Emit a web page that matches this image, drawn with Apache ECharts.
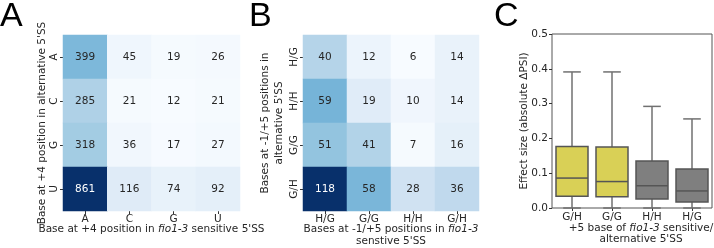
<!DOCTYPE html>
<html>
<head>
<meta charset="utf-8">
<script src="https://cdn.jsdelivr.net/npm/echarts@6/dist/echarts.min.js"></script>
<style>
  html, body { margin: 0; padding: 0; background: #fff; }
  #chart { width: 714px; height: 248px; }
</style>
</head>
<body>
<div id="chart"></div>
<script>
// panel A: +4 base counts
var aCols = ['A', 'C', 'G', 'U'];
var aRows = ['A', 'C', 'G', 'U'];
var aCounts = [
  [399, 45, 19, 26],
  [285, 21, 12, 21],
  [318, 36, 17, 27],
  [861, 116, 74, 92]
];
// panel B: -1/+5 bases counts
var bCols = ['H/G', 'G/G', 'H/H', 'G/H'];
var bRows = ['H/G', 'H/H', 'G/G', 'G/H'];
var bCounts = [
  [40, 12, 6, 14],
  [59, 19, 10, 14],
  [51, 41, 7, 16],
  [118, 58, 28, 36]
];
// panel C: effect size boxes
var cCats = ['G/H', 'G/G', 'H/H', 'H/G'];
var cLow = [0, 0, 0, 0];
var cQ1 = [0.034, 0.032, 0.026, 0.017];
var cMedian = [0.086, 0.076, 0.064, 0.049];
var cQ3 = [0.177, 0.175, 0.135, 0.112];
var cHigh = [0.391, 0.391, 0.292, 0.256];

var FONT = 'DejaVu Sans';
var TXT = '#262626';
var blues = ['#f7fbff', '#deebf7', '#c6dbef', '#9ecae1', '#6baed6', '#4292c6', '#2171b5', '#08519c', '#08306b'];

function heatData(counts) {
  var flat = [].concat.apply([], counts);
  var mn = Math.min.apply(null, flat), mx = Math.max.apply(null, flat);
  var out = [];
  counts.forEach(function (row, r) {
    row.forEach(function (v, c) {
      var t = (v - mn) / (mx - mn);
      out.push({ value: [c, r, v], label: { color: t > 0.6 ? '#ffffff' : TXT } });
    });
  });
  return { data: out, min: mn, max: mx };
}
var hA = heatData(aCounts);
var hB = heatData(bCounts);

function catX(grid, cats, name, gap) {
  return {
    type: 'category', gridIndex: grid, data: cats, position: 'bottom',
    axisLine: { show: false },
    axisTick: { show: true, length: 3, alignWithLabel: true, lineStyle: { color: '#333' } },
    axisLabel: { margin: 3, fontFamily: FONT, fontSize: 10.5, color: TXT },
    splitLine: { show: false }, splitArea: { show: false },
    name: name, nameLocation: 'middle', nameGap: gap, nameMoveOverlap: false,
    nameTextStyle: {
      fontFamily: FONT, fontSize: 10.5, color: TXT, lineHeight: 12, verticalAlign: 'top',
      rich: { i: { fontStyle: 'italic', fontFamily: FONT, fontSize: 10.5, color: TXT } }
    }
  };
}
function catY(grid, cats, name, gap) {
  return {
    type: 'category', gridIndex: grid, data: cats, inverse: true,
    axisLine: { show: false },
    axisTick: { show: true, length: 3, alignWithLabel: true, lineStyle: { color: '#333' } },
    axisLabel: { margin: 3, rotate: 90, fontFamily: FONT, fontSize: 10.5, color: TXT },
    splitLine: { show: false }, splitArea: { show: false },
    name: name, nameLocation: 'middle', nameGap: gap, nameRotate: 90, nameMoveOverlap: false,
    nameTextStyle: { fontFamily: FONT, fontSize: 10.5, color: TXT, lineHeight: 14 }
  };
}

var boxData = cCats.map(function (c, i) {
  return [i, cLow[i], cQ1[i], cMedian[i], cQ3[i], cHigh[i]];
});
var boxFill = ['#d9d056', '#d9d056', '#7f7f7f', '#7f7f7f'];

function renderBox(params, api) {
  var x = api.value(0);
  var band = api.size([1, 0])[0];
  var hw = band * 0.4, cw = hw * 0.55;
  var pLow = api.coord([x, api.value(1)]);
  var pQ1 = api.coord([x, api.value(2)]);
  var pMed = api.coord([x, api.value(3)]);
  var pQ3 = api.coord([x, api.value(4)]);
  var pHigh = api.coord([x, api.value(5)]);
  var cx = pQ1[0];
  var edge = '#555555', wh = '#707070';
  return {
    type: 'group',
    children: [
      { type: 'line', shape: { x1: cx, y1: pQ3[1], x2: cx, y2: pHigh[1] }, style: { stroke: wh, lineWidth: 1.5 } },
      { type: 'line', shape: { x1: cx, y1: pQ1[1], x2: cx, y2: pLow[1] }, style: { stroke: wh, lineWidth: 1.5 } },
      { type: 'line', shape: { x1: cx - cw, y1: pHigh[1], x2: cx + cw, y2: pHigh[1] }, style: { stroke: wh, lineWidth: 1.5 } },
      { type: 'line', shape: { x1: cx - cw, y1: pLow[1], x2: cx + cw, y2: pLow[1] }, style: { stroke: wh, lineWidth: 1.5 } },
      { type: 'rect', shape: { x: cx - hw, y: pQ3[1], width: hw * 2, height: pQ1[1] - pQ3[1] },
        style: { fill: boxFill[params.dataIndex], stroke: edge, lineWidth: 1.5 } },
      { type: 'line', shape: { x1: cx - hw, y1: pMed[1], x2: cx + hw, y2: pMed[1] }, style: { stroke: edge, lineWidth: 1.5 } }
    ]
  };
}

var chart = echarts.init(document.getElementById('chart'), null, { renderer: 'canvas' });
chart.setOption({
  animation: false,
  textStyle: { fontFamily: FONT },
  grid: [
    { left: 63, top: 35, width: 177, height: 176, outerBoundsMode: 'none' },
    { left: 303, top: 35, width: 176, height: 176, outerBoundsMode: 'none' },
    { left: 552, top: 34, width: 160, height: 174, outerBoundsMode: 'none', show: true, borderColor: '#555', borderWidth: 1, backgroundColor: 'transparent' }
  ],
  xAxis: [
    catX(0, aCols, "Base at +4 position in {i|fio1-3} sensitive 5'SS", 12),
    catX(1, bCols, "Bases at -1/+5 positions in {i|fio1-3}\nsenstive 5'SS", 12),
    {
      type: 'category', gridIndex: 2, data: cCats,
      axisLine: { show: false },
      axisTick: { show: true, length: 3, alignWithLabel: true, lineStyle: { color: '#333' } },
      axisLabel: { margin: 4, fontFamily: FONT, fontSize: 10.5, color: TXT },
      name: "+5 base of {i|fio1-3} sensitive/\nalternative 5'SS", nameLocation: 'middle', nameGap: 15, nameMoveOverlap: false,
      nameTextStyle: {
        fontFamily: FONT, fontSize: 10.5, color: TXT, lineHeight: 11, verticalAlign: 'top', padding: [0, 0, 0, 18],
        rich: { i: { fontStyle: 'italic', fontFamily: FONT, fontSize: 10.5, color: TXT } }
      }
    }
  ],
  yAxis: [
    catY(0, aRows, "Base at +4 position in alternative 5'SS", 14),
    catY(1, bRows, "Bases at -1/+5 positions in\nalternative 5'SS", 17),
    {
      type: 'value', gridIndex: 2, min: 0, max: 0.5, interval: 0.1,
      axisLine: { show: false },
      axisTick: { show: true, length: 3, lineStyle: { color: '#333' } },
      axisLabel: { margin: 4, fontFamily: FONT, fontSize: 10.5, color: TXT, formatter: function (v) { return v.toFixed(1); } },
      splitLine: { show: false },
      name: 'Effect size (absolute ΔPSI)', nameLocation: 'middle', nameGap: 22, nameRotate: 90, nameMoveOverlap: false,
      nameTextStyle: { fontFamily: FONT, fontSize: 10.5, color: TXT }
    }
  ],
  visualMap: [
    { show: false, seriesIndex: 0, min: hA.min, max: hA.max, dimension: 2, inRange: { color: blues } },
    { show: false, seriesIndex: 1, min: hB.min, max: hB.max, dimension: 2, inRange: { color: blues } }
  ],
  series: [
    {
      type: 'heatmap', xAxisIndex: 0, yAxisIndex: 0, data: hA.data,
      label: { show: true, fontFamily: FONT, fontSize: 10.5, formatter: function (p) { return p.value[2]; } },
      emphasis: { disabled: true }
    },
    {
      type: 'heatmap', xAxisIndex: 1, yAxisIndex: 1, data: hB.data,
      label: { show: true, fontFamily: FONT, fontSize: 10.5, formatter: function (p) { return p.value[2]; } },
      emphasis: { disabled: true }
    },
    {
      type: 'custom', xAxisIndex: 2, yAxisIndex: 2, data: boxData,
      renderItem: renderBox, clip: false,
      encode: { x: 0, y: [1, 2, 3, 4, 5] }
    }
  ],
  graphic: [
    { type: 'text', left: 0, top: 0, style: { text: 'A', font: '34px "Liberation Sans"', fill: '#000' } },
    { type: 'text', left: 249, top: 0, style: { text: 'B', font: '34px "Liberation Sans"', fill: '#000' } },
    { type: 'text', left: 494, top: 0, style: { text: 'C', font: '34px "Liberation Sans"', fill: '#000' } }
  ]
});
</script>
</body>
</html>
